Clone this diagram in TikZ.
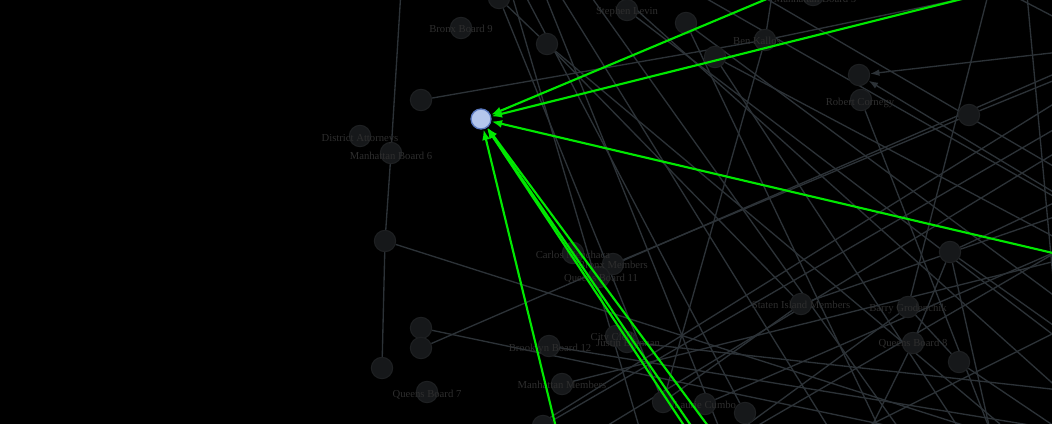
\documentclass[tikz,border=0pt]{standalone}
\usepackage{fontspec}
\setmainfont{Liberation Serif}
\usetikzlibrary{arrows.meta}
\definecolor{edgec}{RGB}{44,50,55}
\definecolor{nodef}{RGB}{22,24,26}
\definecolor{nodeb}{RGB}{30,32,34}
\definecolor{labc}{RGB}{46,46,46}
\definecolor{hlf}{RGB}{180,198,236}
\definecolor{hlb}{RGB}{90,120,190}
\definecolor{grn}{RGB}{0,232,0}
\pgfdeclarelayer{bgl}
\pgfdeclarelayer{edges}
\pgfsetlayers{bgl,edges,main}
\tikzset{
  vtx/.style={circle,minimum size=16pt,inner sep=0pt,fill=nodef,draw=nodeb,line width=0.8pt},
  hl/.style={circle,minimum size=15pt,inner sep=0pt,fill=hlf,draw=hlb,line width=1pt},
  lab/.style={text=labc,font=\fontsize{8}{9}\selectfont,inner sep=0pt},
  edge/.style={draw=edgec,line width=1pt},
  garrow/.style={draw=edgec,line width=1pt,-{Latex[length=7pt,width=5pt]}},
  green/.style={draw=grn,line width=1.6pt,-{Latex[length=8pt,width=6pt]}}
}
\begin{document}
\begin{tikzpicture}[x=0.75pt,y=-0.75pt]
\useasboundingbox (0,0) rectangle (1052,424);
\begin{pgfonlayer}{bgl}
\fill[black] (0,0) rectangle (1052,424);
\end{pgfonlayer}
\clip (0,0) rectangle (1052,424);
% nodes
\node[vtx] (n1) at (499,-2) {};
\node[vtx] (bb9) at (461,28) {};
\node[vtx] (n2) at (547,44) {};
\node[vtx] (sl) at (627,10) {};
\node[vtx] (n3) at (686,23) {};
\node[vtx] (mb5) at (813,-5) {};
\node[vtx] (n4) at (715,57) {};
\node[vtx] (bk) at (765,40) {};
\node[vtx] (n5) at (859,75) {};
\node[vtx] (rc) at (861,100) {};
\node[vtx] (n6) at (969,115) {};
\node[vtx] (n7) at (421,100) {};
\node[vtx] (da) at (360,136) {};
\node[vtx] (mb6) at (391,153) {};
\node[vtx] (n8) at (385,241) {};
\node[vtx] (cm) at (573,253) {};
\node[vtx] (bxm) at (613,264) {};
\node[vtx] (qb11) at (599,277) {};
\node[vtx] (sim) at (801,304) {};
\node[vtx] (bg) at (908,307) {};
\node[vtx] (n9) at (950,252) {};
\node[vtx] (qb8) at (913,343) {};
\node[vtx] (n10) at (959,362) {};
\node[vtx] (n11) at (421,328) {};
\node[vtx] (n12) at (421,348) {};
\node[vtx] (n13) at (382,368) {};
\node[vtx] (qb7) at (427,392) {};
\node[vtx] (bb12) at (549,346) {};
\node[vtx] (mm) at (562,384) {};
\node[vtx] (cc) at (616,336) {};
\node[vtx] (jb) at (627,342) {};
\node[vtx] (n14) at (543,426) {};
\node[vtx] (n15) at (663,402) {};
\node[vtx] (lc) at (705,404) {};
\node[vtx] (n16) at (745,413) {};
\node[hl] (h) at (481,119) {};
% labels
\node[lab] (lbb9) at (461,29) {Bronx Board 9};
\node[lab] (lsl) at (627,12) {Stephen Levin};
\node[lab] (lmb5) at (815,-1) {Manhattan Board 5};
\node[lab] (lbk) at (757,41) {Ben Kallos};
\node[lab] (lrc) at (860,103) {Robert Cornegy};
\node[lab] (lda) at (360,139) {District Attorneys};
\node[lab] (lmb6) at (391,156) {Manhattan Board 6};
\node[lab] (lcm) at (573,255) {Carlos Menchaca};
\node[lab] (lbxm) at (613,265) {Bronx Members};
\node[lab] (lqb11) at (601,279) {Queens Board 11};
\node[lab] (lsim) at (801,305) {Staten Island Members};
\node[lab] (lbg) at (908,309) {Barry Grodenchik};
\node[lab] (lqb8) at (913,344) {Queens Board 8};
\node[lab] (lqb7) at (427,395) {Queens Board 7};
\node[lab] (lbb12) at (550,349) {Brooklyn Board 12};
\node[lab] (lmm) at (562,385) {Manhattan Members};
\node[lab] (lcc) at (613,338) {City Clerk};
\node[lab] (ljb) at (628,343) {Justin Brannan};
\node[lab] (llc) at (705,405) {Laurie Cumbo};
% off-canvas ends
\coordinate (t1) at (401,-10);
\coordinate (e1) at (1000,-9);
\coordinate (e2) at (1010,440);
\coordinate (e3) at (1052,460);
\coordinate (e4) at (1052,75);
\coordinate (e5) at (1000,424);
\coordinate (s1) at (525,-5);
\coordinate (s2) at (560,-5);
\coordinate (s3) at (590,-5);
\coordinate (s4) at (620,-5);
\coordinate (s5) at (700,-5);
\coordinate (s6) at (760,-5);
\coordinate (s7) at (988,-5);
\coordinate (s8) at (1027,-5);
\coordinate (s9) at (1012,-5);
\coordinate (s10) at (772,-5);
\coordinate (s11) at (512,-5);
\coordinate (s12) at (545,-5);
\coordinate (b1) at (830,430);
\coordinate (b2) at (900,430);
\coordinate (b3) at (880,430);
\coordinate (b4) at (960,430);
\coordinate (b5) at (990,430);
\coordinate (b6) at (1067,430);
\coordinate (b7) at (740,430);
\coordinate (b8) at (870,430);
\coordinate (b9) at (530,430);
\coordinate (b10) at (600,430);
\coordinate (b11) at (750,430);
\coordinate (b12) at (860,430);
\coordinate (b13) at (1060,430);
\coordinate (b14) at (640,430);
\coordinate (b15) at (720,430);
\coordinate (r1) at (1060,390);
\coordinate (r2) at (1060,340);
\coordinate (r3) at (1060,300);
\coordinate (r4) at (1060,240);
\coordinate (r5) at (1060,200);
\coordinate (r6) at (1060,170);
\coordinate (r7) at (1060,52);
\coordinate (r8) at (1060,196);
\coordinate (r9) at (1060,78);
\coordinate (r10) at (1060,200);
\coordinate (r11) at (1060,330);
\coordinate (r12) at (1060,215);
\coordinate (r13) at (1060,100);
\coordinate (r14) at (1060,150);
\coordinate (r15) at (1060,250);
\coordinate (r16) at (1060,126);
\coordinate (r17) at (1060,260);
\coordinate (r18) at (1060,20);
\coordinate (gs1) at (800,-15);
\coordinate (gs2) at (1010,-13);
\coordinate (gs3) at (1070,257);
\coordinate (gs4) at (558,436);
\coordinate (gs5) at (687,430);
\coordinate (gs6) at (694,430);
\coordinate (gs7) at (711,430);
\begin{pgfonlayer}{edges}
\draw[edge] (t1) -- (mb6);
\draw[edge] (mb6) -- (n8);
\draw[edge] (n8) -- (n13);
\draw[edge] (n7) -- (bk);
\draw[edge] (bk) -- (e1);
\draw[edge] (n8) -- (e2);
\draw[edge] (n11) -- (e3);
\draw[edge] (n12) -- (e4);
\draw[edge] (n1) -- (n2);
\draw[edge] (n2) -- (e5);
\draw[edge] (n1) -- (n15);
\draw[edge] (s1) -- (n16);
\draw[edge] (s11) -- (b14);
\draw[edge] (s12) -- (b15);
\draw[edge] (s2) -- (b1);
\draw[edge] (s3) -- (b2);
\draw[edge] (s4) -- (r1);
\draw[edge] (sl) -- (r2);
\draw[edge] (n3) -- (r3);
\draw[edge] (n3) -- (b3);
\draw[edge] (n4) -- (b4);
\draw[edge] (n4) -- (r4);
\draw[edge] (s5) -- (r5);
\draw[edge] (s6) -- (r6);
\draw[edge] (s10) -- (bk);
\draw[edge] (bk) -- (n15);
\draw[garrow] (r7) -- (n5);
\draw[garrow] (r8) -- (n5);
\draw[edge] (n6) -- (r9);
\draw[edge] (n6) -- (bxm);
\draw[edge] (s7) -- (bg);
\draw[edge] (s8) -- (b6);
\draw[edge] (s9) -- (r18);
\draw[edge] (n9) -- (r10);
\draw[edge] (n9) -- (qb8);
\draw[edge] (n9) -- (b5);
\draw[edge] (n9) -- (r11);
\draw[edge] (bg) -- (n10);
\draw[edge] (n10) -- (b13);
\draw[edge] (bg) -- (b7);
\draw[edge] (sim) -- (n15);
\draw[edge] (sim) -- (r12);
\draw[edge] (qb8) -- (b8);
\draw[edge] (r13) -- (b9);
\draw[edge] (r14) -- (b10);
\draw[edge] (r15) -- (b11);
\draw[edge] (r11) -- (b12);
\draw[edge] (n14) -- (r16);
\draw[edge] (mm) -- (r17);
\draw[edge] (jb) -- (r1);
\draw[edge] (rc) -- (b5);
\draw[edge] (n2) -- (sim);
\draw[edge] (lc) -- (r15);
\draw[edge] (bb12) -- (b13);
\end{pgfonlayer}
% green arrows
\draw[green] (gs1) -- (h);
\draw[green] (gs2) -- (h);
\draw[green] (gs3) -- (h);
\draw[green] (gs4) -- (h);
\draw[green] (gs5) -- (h);
\draw[green] (gs6) -- (h);
\draw[green] (gs7) -- (h);
\end{tikzpicture}
\end{document}
